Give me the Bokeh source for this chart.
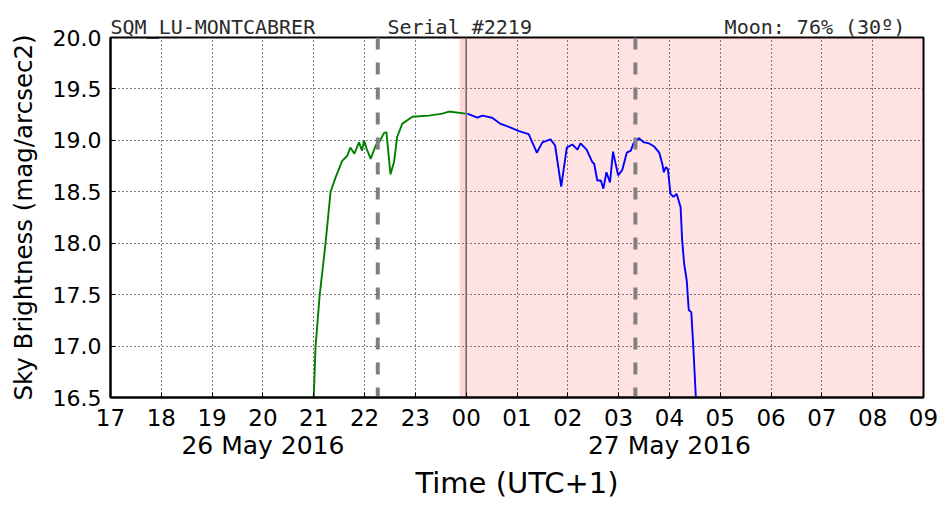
from bokeh.plotting import figure
from bokeh.models import (FixedTicker, LinearAxis, Span, BoxAnnotation,
                          PrintfTickFormatter, Range1d)
from bokeh.embed import file_html
from bokeh.resources import INLINE

# ---------------- data (hours since 26 May 2016 00:00, UTC+1) ----------------
green_t = [21.00, 21.035, 21.114, 21.232, 21.331, 21.43, 21.56, 21.66, 21.72, 21.80,
           21.89, 21.95, 21.99, 22.04, 22.12, 22.22, 22.31, 22.38, 22.43, 22.51,
           22.58, 22.64, 22.74, 22.94, 23.26, 23.53, 23.66, 23.99]
green_mag = [16.50, 16.99, 17.48, 18.00, 18.50, 18.64, 18.80, 18.85, 18.93, 18.87,
             18.98, 18.90, 19.00, 18.92, 18.82, 18.95, 19.00, 19.07, 19.08, 18.67,
             18.79, 19.03, 19.16, 19.23, 19.24, 19.26, 19.28, 19.26]

blue_t = [24.02, 24.22, 24.32, 24.51, 24.68, 24.84, 25.04, 25.23, 25.39, 25.50,
          25.66, 25.75, 25.87, 25.98, 26.09, 26.19, 26.25, 26.37, 26.48, 26.52,
          26.58, 26.65, 26.70, 26.76, 26.83, 26.89, 26.99, 27.07, 27.16, 27.24,
          27.29, 27.40, 27.50, 27.60, 27.70, 27.80, 27.86, 27.89, 27.93, 27.97,
          28.02, 28.08, 28.14, 28.19, 28.22, 28.25, 28.29, 28.34, 28.38, 28.43,
          28.47, 28.52]
blue_mag = [19.26, 19.22, 19.24, 19.22, 19.16, 19.13, 19.09, 19.06, 18.88, 18.98,
            19.01, 18.95, 18.55, 18.93, 18.96, 18.91, 18.97, 18.91, 18.79, 18.77,
            18.61, 18.61, 18.53, 18.69, 18.59, 18.89, 18.66, 18.71, 18.88, 18.90,
            18.97, 19.02, 18.98, 18.97, 18.94, 18.88, 18.77, 18.69, 18.74, 18.72,
            18.48, 18.45, 18.48, 18.40, 18.35, 18.03, 17.80, 17.64, 17.35, 17.33,
            16.99, 16.50]

hour_ticks = list(range(17, 34))
hour_labels = ["17", "18", "19", "20", "21", "22", "23", "00", "01", "02", "03",
               "04", "05", "06", "07", "08", "09"]
date_ticks = [20, 28]
date_labels = ["26 May 2016", "27 May 2016"]
mag_ticks = [16.5, 17.0, 17.5, 18.0, 18.5, 19.0, 19.5, 20.0]

station = "SQM_LU-MONTCABRER"
serial = "Serial #2219"
moon_text = "Moon: 76% (30º)"

night_start = 23.87      # start of shaded (astronomical night) region
midnight = 24.0
dashed_times = [22.26, 27.33]

X_MIN, X_MAX = 17, 33
Y_MIN, Y_MAX = 16.5, 20.0
FRAME_W, FRAME_H = 813, 360

# ---------------- figure ----------------
p = figure(frame_width=FRAME_W, frame_height=FRAME_H,
           x_range=Range1d(X_MIN, X_MAX), y_range=Range1d(Y_MIN, Y_MAX),
           output_backend="svg", toolbar_location=None,
           min_border_left=110, min_border_right=21,
           min_border_top=37, min_border_bottom=107)
p.background_fill_color = "white"
p.border_fill_color = "white"
p.outline_line_color = "black"
p.outline_line_width = 2

FONT = "DejaVu Sans"
MONO = "DejaVu Sans Mono"

# header line (monospaced, padded with no-break spaces)
NB = "\u00a0"
p.title.text = station + NB * 6 + serial + NB * 16 + moon_text
p.title.text_font = MONO
p.title.text_font_size = "20px"
p.title.text_font_style = "normal"
p.title.text_color = "#2a2a2a"
p.title.align = "left"
p.title.offset = 0
p.title.standoff = -2

# x axis (hours)
xa = p.xaxis[0]
xa.ticker = FixedTicker(ticks=hour_ticks)
xa.major_label_overrides = {t: l for t, l in zip(hour_ticks, hour_labels)}
xa.major_label_text_font = FONT
xa.major_label_text_font_size = "23px"
xa.major_label_text_color = "black"
xa.major_label_standoff = 11
xa.major_tick_in = 5
xa.major_tick_out = 0
xa.minor_tick_line_color = None
xa.axis_line_width = 2
xa.axis_line_color = "black"
xa.major_tick_line_color = "black"

# second x axis: dates and axis label
da = LinearAxis(ticker=FixedTicker(ticks=date_ticks),
                major_label_overrides={t: l for t, l in zip(date_ticks, date_labels)})
da.major_label_text_font = FONT
da.major_label_text_font_size = "25px"
da.major_label_text_color = "black"
da.major_label_standoff = 2
da.major_tick_in = 0
da.major_tick_out = 0
da.minor_tick_line_color = None
da.major_tick_line_color = None
da.axis_line_color = None
da.axis_label = "Time (UTC+1)"
da.axis_label_text_font = FONT
da.axis_label_text_font_size = "29px"
da.axis_label_text_font_style = "normal"
da.axis_label_text_color = "black"
da.axis_label_standoff = 3
p.add_layout(da, "below")

# y axis
ya = p.yaxis[0]
ya.ticker = FixedTicker(ticks=mag_ticks)
ya.formatter = PrintfTickFormatter(format="%.1f")
ya.major_label_text_font = FONT
ya.major_label_text_font_size = "22px"
ya.major_label_text_color = "black"
ya.major_label_standoff = 9
ya.major_tick_in = 5
ya.major_tick_out = 0
ya.minor_tick_line_color = None
ya.axis_line_width = 2
ya.axis_line_color = "black"
ya.major_tick_line_color = "black"
ya.axis_label = "Sky Brightness (mag/arcsec2)"
ya.axis_label_text_font = FONT
ya.axis_label_text_font_size = "24.5px"
ya.axis_label_text_font_style = "normal"
ya.axis_label_text_color = "black"
ya.axis_label_standoff = 12

# grids
for g in (p.xgrid[0], p.ygrid[0]):
    g.grid_line_color = "black"
    g.grid_line_dash = "1 3"
    g.grid_line_width = 1

# shaded night region
p.add_layout(BoxAnnotation(left=night_start, right=X_MAX, fill_color="red",
                           fill_alpha=0.11, line_color=None, level="underlay"))
p.add_layout(BoxAnnotation(left=night_start, right=midnight, fill_color="red",
                           fill_alpha=0.05, line_color=None, level="underlay"))

# midnight and dashed markers
p.add_layout(Span(location=midnight, dimension="height", line_color="#6e6e6e",
                  line_width=1.6, level="glyph"))
for t in dashed_times:
    p.add_layout(Span(location=t, dimension="height", line_color="#808080",
                      line_width=4, line_dash="12 13", level="glyph"))

# curves
p.line(green_t, green_mag, line_color="green", line_width=1.9)
p.line(blue_t, blue_mag, line_color="blue", line_width=1.9)

open("out.html", "w").write(file_html(p, INLINE))
